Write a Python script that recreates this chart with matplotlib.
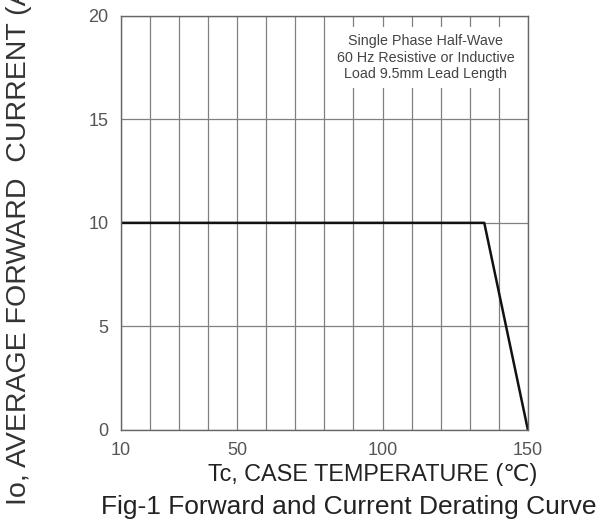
import numpy as np
import matplotlib.pyplot as plt

plt.rcParams['font.family'] = ['Liberation Sans', 'DejaVu Sans']

# derating curve
temp = [10, 135, 150]
current = [10, 10, 0]

x_ticks = [10, 50, 100, 150]
y_ticks = [0, 5, 10, 15, 20]

fig = plt.figure(figsize=(6.04, 5.25), dpi=100)
ax = fig.add_axes([0.2, 0.181, 0.674, 0.789])

ax.set_xlim(10, 150)
ax.set_ylim(0, 20)
ax.set_xticks(x_ticks)
ax.set_yticks(y_ticks)
ax.set_xticks(np.arange(10, 151, 10), minor=True)

ax.grid(True, which='both', axis='x', color='#808080', lw=0.9)
ax.grid(True, which='major', axis='y', color='#808080', lw=0.9)
ax.tick_params(which='both', length=0, labelsize=13, labelcolor='#555555', pad=9)
for s in ax.spines.values():
    s.set_color('#666666')
    s.set_linewidth(1)

ax.plot(temp, current, color='#111111', lw=1.8)

ax.text(0.749, 0.899, 'Single Phase Half-Wave\n60 Hz Resistive or Inductive\nLoad 9.5mm Lead Length',
        transform=ax.transAxes, ha='center', va='center', fontsize=10.3, color='#444444',
        linespacing=1.25,
        bbox=dict(facecolor='white', edgecolor='none', pad=5))

fig.text(373 / 604, 1 - 475 / 525, 'Tc, CASE TEMPERATURE (\u2103)', ha='center', va='center',
         fontsize=16.8, color='#222222')
fig.text(349 / 604, 1 - 507 / 525, 'Fig-1 Forward and Current Derating Curve', ha='center',
         va='center', fontsize=19, color='#222222')
fig.text(19 / 604, 1 - 505 / 525, 'Io, AVERAGE FORWARD  CURRENT (A)', rotation=90,
         ha='center', va='bottom', fontsize=20.5, color='#333333')

fig.savefig('out.png', dpi=100)
